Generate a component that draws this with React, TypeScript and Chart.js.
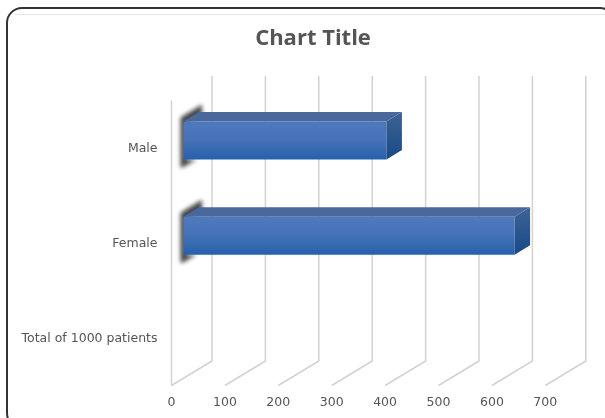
import React, { useEffect, useRef } from "react";
import { Chart, registerables } from "chart.js";

Chart.register(...registerables);

const categories = ["Male", "Female", "Total of 1000 patients"];
const patientCounts = [380, 620, null];
const xTicks = [0, 100, 200, 300, 400, 500, 600, 700];

const TEXT = "#555555";
const GRID = "#d2d2d2";
const AXIS_MAX = 811.8; // leaves room on the right for the receding depth of the box
const DEPTH_X = 40.5;
const DEPTH_Y = 24.5;
const BAR_SHIFT_X = 12;
const BAR_SHIFT_Y = 7.3;
const BAR_DEPTH_X = 15.5;
const BAR_DEPTH_Y = 9.5;

// Rounded frame around the whole chart; it runs off the right and bottom edges.
const framePlugin = {
  id: "frame",
  beforeDraw(chart: any) {
    const { ctx } = chart;
    ctx.save();
    ctx.fillStyle = "#ffffff";
    ctx.fillRect(0, 0, chart.width, chart.height);
    ctx.strokeStyle = "#e6e6e6";
    ctx.lineWidth = 1;
    ctx.beginPath();
    ctx.moveTo(15, 14.5);
    ctx.lineTo(chart.width, 14.5);
    ctx.stroke();
    ctx.strokeStyle = "#333333";
    ctx.lineWidth = 2;
    ctx.beginPath();
    ctx.roundRect(7, 8, 608, 420, 15);
    ctx.stroke();
    ctx.restore();
  },
};

// Walls and floor of the 3D plot box, positioned from the value scale.
const wallsPlugin = {
  id: "walls",
  beforeDatasetsDraw(chart: any) {
    const { ctx, chartArea, scales } = chart;
    ctx.save();
    ctx.strokeStyle = GRID;
    ctx.lineWidth = 1.5;
    xTicks.forEach((tick) => {
      const x = scales.x.getPixelForValue(tick);
      ctx.beginPath();
      ctx.moveTo(x, chartArea.bottom);
      ctx.lineTo(x + DEPTH_X, chartArea.bottom - DEPTH_Y);
      ctx.lineTo(x + DEPTH_X, chartArea.top - DEPTH_Y);
      ctx.stroke();
    });
    const left = scales.x.getPixelForValue(0);
    ctx.beginPath();
    ctx.moveTo(left, chartArea.bottom);
    ctx.lineTo(left, chartArea.top);
    ctx.stroke();
    ctx.restore();
  },
};

// Extrudes each bar: soft shadow at the base, then the top and end faces.
const extrudePlugin = {
  id: "extrude",
  beforeDatasetDraw(chart: any, args: any) {
    const { ctx } = chart;
    const bars = chart.getDatasetMeta(args.index).data;
    ctx.save();
    bars.forEach((bar: any, i: number) => {
      if (patientCounts[i] == null) return;
      const x0 = bar.base + BAR_SHIFT_X;
      const top = bar.y - bar.height / 2 - BAR_SHIFT_Y;
      const bottom = bar.y + bar.height / 2 - BAR_SHIFT_Y;
      ctx.save();
      ctx.filter = "blur(2px)";
      ctx.fillStyle = "#454545";
      ctx.beginPath();
      ctx.moveTo(x0 - 3, top - 4);
      ctx.lineTo(x0 + BAR_DEPTH_X + 3, top - 17);
      ctx.lineTo(x0 + BAR_DEPTH_X + 3, top - 7);
      ctx.lineTo(x0 + 3, top + 2);
      ctx.lineTo(x0 + 3, bottom);
      ctx.lineTo(x0 + 13, bottom);
      ctx.lineTo(x0 - 1, bottom + 8);
      ctx.lineTo(x0 - 3, bottom + 8);
      ctx.closePath();
      ctx.fill();
      ctx.restore();
    });
    ctx.restore();
    ctx.save();
    ctx.translate(BAR_SHIFT_X, -BAR_SHIFT_Y);
  },
  afterDatasetDraw(chart: any, args: any) {
    const { ctx } = chart;
    const bars = chart.getDatasetMeta(args.index).data;
    bars.forEach((bar: any, i: number) => {
      if (patientCounts[i] == null) return;
      const top = bar.y - bar.height / 2;
      const bottom = bar.y + bar.height / 2;
      ctx.fillStyle = "#49689c";
      ctx.beginPath();
      ctx.moveTo(bar.base, top);
      ctx.lineTo(bar.base + BAR_DEPTH_X, top - BAR_DEPTH_Y);
      ctx.lineTo(bar.x + BAR_DEPTH_X, top - BAR_DEPTH_Y);
      ctx.lineTo(bar.x, top);
      ctx.closePath();
      ctx.fill();
      const side = ctx.createLinearGradient(0, top - BAR_DEPTH_Y, 0, bottom);
      side.addColorStop(0, "#3f6396");
      side.addColorStop(1, "#164a85");
      ctx.fillStyle = side;
      ctx.beginPath();
      ctx.moveTo(bar.x, top);
      ctx.lineTo(bar.x + BAR_DEPTH_X, top - BAR_DEPTH_Y);
      ctx.lineTo(bar.x + BAR_DEPTH_X, bottom - BAR_DEPTH_Y);
      ctx.lineTo(bar.x, bottom);
      ctx.closePath();
      ctx.fill();
    });
    ctx.restore();
  },
};

function barFill(context: any) {
  const { chart, dataIndex } = context;
  const scale = chart.scales.y;
  if (!scale || !chart.chartArea) return "#3f6fb5";
  const centre = scale.getPixelForValue(dataIndex);
  const half = (chart.chartArea.height / categories.length) * 0.2;
  const g = chart.ctx.createLinearGradient(0, centre - half, 0, centre + half);
  g.addColorStop(0, "#4f79bd");
  g.addColorStop(0.45, "#4873b8");
  g.addColorStop(1, "#2660ac");
  return g;
}

export default function App() {
  const ref = useRef<HTMLCanvasElement>(null);

  useEffect(() => {
    if (!ref.current) return;
    const chart = new Chart(ref.current, {
      type: "bar",
      data: {
        labels: categories,
        datasets: [
          {
            data: patientCounts,
            backgroundColor: barFill,
            categoryPercentage: 1,
            barPercentage: 0.4,
          },
        ],
      },
      options: {
        indexAxis: "y",
        responsive: false,
        animation: false,
        layout: { padding: { left: 21, right: 0, top: 0, bottom: 0 } },
        plugins: {
          legend: { display: false },
          tooltip: { enabled: false },
          title: {
            display: true,
            text: "Chart Title",
            color: TEXT,
            font: { family: "'Open Sans'", size: 22, weight: "bold" },
            padding: { top: 26, bottom: 48 },
          },
        },
        scales: {
          x: {
            min: 0,
            max: AXIS_MAX,
            afterBuildTicks(axis: any) {
              axis.ticks = xTicks.map((value) => ({ value }));
            },
            afterFit(axis: any) {
              axis.height = 32.5;
            },
            grid: { display: false, drawTicks: false },
            border: { display: false },
            ticks: {
              color: TEXT,
              padding: 10,
              maxRotation: 0,
              autoSkip: false,
              font: { family: "'DejaVu Sans'", size: 12.5 },
            },
          },
          y: {
            afterFit(axis: any) {
              axis.width = 150.5;
            },
            grid: { display: false, drawTicks: false },
            border: { display: false },
            ticks: {
              color: TEXT,
              padding: 14,
              labelOffset: 1,
              font: { family: "'DejaVu Sans'", size: 12.5 },
            },
          },
        },
      },
      plugins: [framePlugin, wallsPlugin, extrudePlugin],
    } as any);
    return () => chart.destroy();
  }, []);

  return (
    <canvas
      ref={ref}
      width={605}
      height={418}
      style={{ position: "fixed", left: 0, top: 0, display: "block" }}
    />
  );
}
